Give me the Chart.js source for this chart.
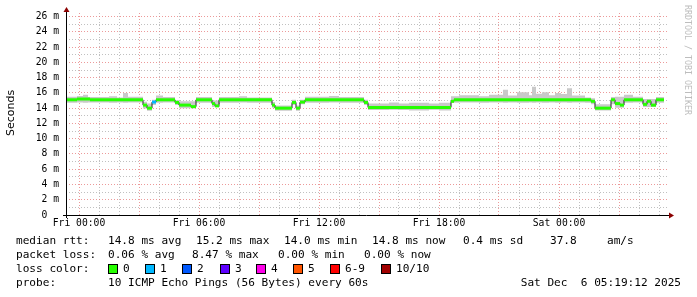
<!DOCTYPE html>
<html>
<head>
<meta charset="utf-8">
<script src="https://cdn.jsdelivr.net/npm/chart.js@4.4.1/dist/chart.umd.min.js"></script>
<style>
html,body{margin:0;padding:0;background:#fff;}
#wrap{position:relative;width:697px;height:297px;overflow:hidden;}
.lg{position:absolute;font-family:"DejaVu Sans Mono",monospace;font-size:11.1px;color:#000;white-space:pre;line-height:14px;height:14px;}
.box{position:absolute;width:8px;height:8px;border:1px solid #000;}
</style>
</head>
<body>
<div id="wrap"><canvas id="canvas" width="697" height="297"></canvas></div>
<script>
// hours relative to Fri 00:00
var xTickHours=[0,6,12,18,24];
var xTickLabels=['Fri 00:00','Fri 06:00','Fri 12:00','Fri 18:00','Sat 00:00'];

// median rtt (ms), each value holds until the next time
var medianHours=[-0.65,-0.1,0.55,3.2,3.4,3.65,3.85,4.8,5.0,5.6,5.85,6.65,6.8,7.0,9.65,9.8,10.65,10.85,11.05,11.3,14.25,14.45,18.6,18.75,25.6,25.8,26.6,26.8,27.05,27.25,28.2,28.4,28.6,28.85,29.25];
var medianMs=[15.1,15.2,15.1,14.4,14.0,14.8,15.1,14.75,14.4,14.2,15.1,14.6,14.3,15.1,14.4,14.0,14.75,14.0,14.8,15.1,14.75,14.1,14.9,15.1,14.9,14.0,15.1,14.6,14.4,15.1,14.5,14.9,14.4,15.1,15.1];
var medianLoss=[0,0,0,0,0,1,0,0,0,0,0,0,0,0,0,0,0,0,0,0,0,0,0,0,0,0,0,0,0,0,0,0,0,0,0];

// smoke (spread of the pings), low and high edge
var smokeHours=[-0.65,-0.1,0.2,0.45,1.5,1.9,2.2,2.45,3.2,3.4,3.65,3.85,4.2,4.8,5.0,5.85,6.65,7.0,8.0,8.4,9.65,9.8,10.65,10.85,11.05,11.3,12.5,13.0,14.25,14.45,15.5,16.0,16.5,17.5,18.0,18.6,19.0,20.0,20.5,21.2,21.45,21.9,22.5,22.65,22.85,23.15,23.5,23.8,24.1,24.4,24.65,25.3,25.6,25.8,26.6,26.8,27.25,27.7,28.2,28.85,29.25];
var smokeLow=[14.7,14.75,14.7,14.75,14.7,14.75,14.7,14.75,13.95,13.65,14.4,14.7,14.75,14.4,14.0,14.7,14.15,14.7,14.75,14.7,14.05,13.65,14.4,13.65,14.5,14.7,14.75,14.7,14.4,13.75,13.8,13.75,13.7,13.8,13.7,14.7,14.75,14.7,14.75,14.7,14.75,14.7,14.75,14.7,14.75,14.7,14.75,14.7,14.75,14.7,14.75,14.7,14.5,13.7,14.5,14.05,14.7,14.75,14.15,14.7,14.7];
var smokeHigh=[15.5,15.6,15.75,15.45,15.55,15.4,16.0,15.5,14.85,14.6,15.1,15.65,15.45,15.05,14.9,15.45,15.0,15.45,15.55,15.4,14.8,14.35,15.1,14.35,15.1,15.5,15.6,15.45,15.1,14.6,14.75,14.6,14.7,14.6,14.7,15.55,15.7,15.55,15.75,16.4,15.65,16.1,15.7,16.8,15.9,16.1,15.7,16.0,15.85,16.6,15.65,15.4,15.3,14.5,15.45,15.5,15.75,15.5,15.2,15.45,15.45];
// darker core of the smoke where the pings bunch up
var coreHours=[20.9,21.2,21.45,22.6,22.65,22.85,23.9,24.0,24.25,29.25];
var coreLow=[null,15.35,null,null,15.3,null,null,15.3,null,null];
var coreHigh=[null,15.75,null,null,15.6,null,null,15.55,null,null];

var lossLabels=['0','1','2','3','4','5','6-9','10/10'];
var lossColors=['#26ff00','#00b8ff','#0059ff','#5e00ff','#ff00ea','#ff5500','#ff0000','#a10000'];

var rttLegend=['median rtt:','14.8 ms avg','15.2 ms max','14.0 ms min','14.8 ms now','0.4 ms sd','37.8','am/s'];
var lossLegend=['packet loss:','0.06 % avg','8.47 % max','0.00 % min','0.00 % now'];
var probeLegend=['probe:','10 ICMP Echo Pings (56 Bytes) every 60s','Sat Dec  6 05:19:12 2025'];

function points(hours,vals){
	var out=[];
	for(var i=0;i<hours.length;i++){out.push({x:hours[i],y:vals[i]});}
	return out;
}
// horizontal runs only, the vertical joins stay black
function runs(){
	var out=[];
	for(var i=0;i<medianHours.length-1;i++){
		out.push({x:medianHours[i],y:medianMs[i],loss:medianLoss[i]});
		out.push({x:medianHours[i+1],y:medianMs[i],loss:medianLoss[i]});
		out.push({x:medianHours[i+1],y:null,loss:0});
	}
	return out;
}

var MAJOR='rgba(230,120,120,0.75)';
var MINOR='rgba(150,150,150,0.6)';

var extras={
	id:'extras',
	afterDraw:function(chart){
		var c=chart.ctx,a=chart.chartArea;
		c.save();
		c.strokeStyle='#000';c.lineWidth=1;
		c.beginPath();
		c.moveTo(63,a.bottom+0.5);c.lineTo(a.right+1,a.bottom+0.5);
		c.moveTo(a.left+0.5,a.bottom+3);c.lineTo(a.left+0.5,11);
		c.stroke();
		c.fillStyle='#8b0000';
		c.beginPath();c.moveTo(a.left+0.5,7);c.lineTo(a.left-2.5,12);c.lineTo(a.left+3.5,12);c.closePath();c.fill();
		c.beginPath();c.moveTo(a.right+5,a.bottom+0.5);c.lineTo(a.right,a.bottom-2.5);c.lineTo(a.right,a.bottom+3.5);c.closePath();c.fill();
		c.fillStyle='#000';
		c.font='11px "DejaVu Sans"';
		c.textAlign='center';c.textBaseline='middle';
		c.translate(11,113);c.rotate(-Math.PI/2);
		c.fillText('Seconds',0,0);
		c.restore();
		c.save();
		c.fillStyle='#bdbdbd';
		c.font='8.3px "DejaVu Sans Mono"';
		c.textAlign='left';c.textBaseline='middle';
		c.translate(687,5);c.rotate(Math.PI/2);
		c.fillText('RRDTOOL / TOBI OETIKER',0,0);
		c.restore();
	}
};

var ctx=document.getElementById('canvas').getContext('2d');
var chart=new Chart(ctx,{
	type:'line',
	data:{datasets:[
		{data:runs(),borderWidth:3,borderColor:'#26ff00',spanGaps:false,pointRadius:0,order:0,
			segment:{borderColor:function(s){return lossColors[s.p0.raw.loss];}}},
		{data:points(medianHours,medianMs),stepped:true,borderWidth:1,borderColor:'#202020',pointRadius:0,order:1},
		{data:points(coreHours,coreHigh),stepped:true,borderWidth:0,borderColor:'rgba(0,0,0,0)',pointRadius:0,spanGaps:false,
			fill:'+1',backgroundColor:'#a6a6a6',order:2},
		{data:points(coreHours,coreLow),stepped:true,borderWidth:0,borderColor:'rgba(0,0,0,0)',pointRadius:0,spanGaps:false,order:3},
		{data:points(smokeHours,smokeHigh),stepped:true,borderWidth:0,borderColor:'rgba(0,0,0,0)',pointRadius:0,
			fill:'+1',backgroundColor:'#c9c9c9',order:4},
		{data:points(smokeHours,smokeLow),stepped:true,borderWidth:0,borderColor:'rgba(0,0,0,0)',pointRadius:0,order:5}
	]},
	options:{
		responsive:false,animation:false,devicePixelRatio:1,
		layout:{padding:{top:13,right:28,left:0,bottom:0}},
		plugins:{legend:{display:false},tooltip:{enabled:false}},
		scales:{
			x:{type:'linear',min:-0.65,max:29.5,
				afterFit:function(s){s.height=82;},
				grid:{drawTicks:false,lineWidth:1,color:function(c){
					return c.tick.value%3===0?MAJOR:MINOR;}},
				border:{display:false,dash:[1,2]},
				ticks:{stepSize:1,includeBounds:false,autoSkip:false,maxRotation:0,padding:3,color:'#000',
					font:{family:'DejaVu Sans Mono',size:9.7},
					callback:function(v){var i=xTickHours.indexOf(v);return i<0?'':xTickLabels[i];}}
			},
			y:{min:0,max:26.47,
				afterFit:function(s){s.width=66;},
				grid:{drawTicks:false,lineWidth:1,color:function(c){
					var v=c.tick.value;if(v===0)return 'rgba(0,0,0,0)';return v%2===0?MAJOR:MINOR;}},
				border:{display:false,dash:[1,2]},
				ticks:{stepSize:1,includeBounds:false,autoSkip:false,padding:7,color:'#000',
					font:{family:'DejaVu Sans Mono',size:9.7},
					callback:function(v){if(v%2!==0)return '';return v===0?'0  ':v+' m';}}
			}
		}
	},
	plugins:[extras]
});

// legend under the graph
var wrap=document.getElementById('wrap');
function addText(txt,left,center){
	var d=document.createElement('div');
	d.className='lg';d.textContent=txt;
	d.style.left=left+'px';d.style.top=(center-7)+'px';
	wrap.appendChild(d);return d;
}
var rttX=[16,108,196,284,372,463,550,607];
for(var i=0;i<rttLegend.length;i++){addText(rttLegend[i],rttX[i],241);}
var lossX=[16,108,192,278,364];
for(var i=0;i<lossLegend.length;i++){addText(lossLegend[i],lossX[i],255);}
addText('loss color:',16,269);
var boxX=[108,145,182,220,256,293,330,381];
for(var i=0;i<lossLabels.length;i++){
	var b=document.createElement('div');
	b.className='box';b.style.left=boxX[i]+'px';b.style.top='264px';b.style.background=lossColors[i];
	wrap.appendChild(b);
	addText(lossLabels[i],boxX[i]+15,269);
}
addText(probeLegend[0],16,283);
addText(probeLegend[1],108,283);
var dt=addText(probeLegend[2],0,283);
dt.style.left='auto';dt.style.right='16px';
</script>
</body>
</html>
